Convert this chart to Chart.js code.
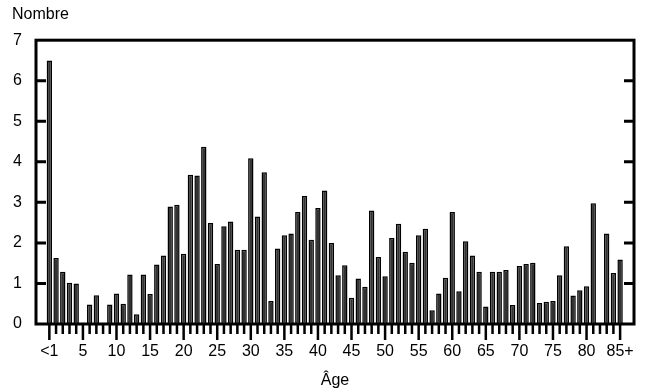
<!DOCTYPE html>
<html>
<head>
<meta charset="utf-8">
<script src="https://cdn.jsdelivr.net/npm/chart.js@4"></script>
<style>
  body { margin: 0; background: #fff; }
  #wrap { width: 646px; height: 392px; }
</style>
</head>
<body>
<div id="wrap"><canvas id="ageChart"></canvas></div>
<script>
const ages = ['<1', '1', '2', '3', '4', '5', '6', '7', '8', '9',
              '10', '11', '12', '13', '14', '15', '16', '17', '18', '19',
              '20', '21', '22', '23', '24', '25', '26', '27', '28', '29',
              '30', '31', '32', '33', '34', '35', '36', '37', '38', '39',
              '40', '41', '42', '43', '44', '45', '46', '47', '48', '49',
              '50', '51', '52', '53', '54', '55', '56', '57', '58', '59',
              '60', '61', '62', '63', '64', '65', '66', '67', '68', '69',
              '70', '71', '72', '73', '74', '75', '76', '77', '78', '79',
              '80', '81', '82', '83', '84', '85+'];

const counts = [6.5, 1.63, 1.29, 1.02, 1.0, 0, 0.48, 0.71, 0, 0.48,
                0.75, 0.5, 1.22, 0.24, 1.22, 0.74, 1.47, 1.69, 2.9, 2.94,
                1.73, 3.68, 3.66, 4.37, 2.49, 1.48, 2.41, 2.53, 1.83, 1.83,
                4.09, 2.65, 3.74, 0.57, 1.86, 2.19, 2.23, 2.76, 3.16, 2.08,
                2.86, 3.29, 2.0, 1.2, 1.45, 0.65, 1.12, 0.92, 2.8, 1.65,
                1.18, 2.12, 2.47, 1.78, 1.51, 2.19, 2.35, 0.34, 0.75, 1.14,
                2.76, 0.81, 2.04, 1.69, 1.29, 0.43, 1.29, 1.29, 1.33, 0.47,
                1.43, 1.48, 1.51, 0.52, 0.55, 0.57, 1.2, 1.92, 0.7, 0.83,
                0.93, 2.98, 0, 2.23, 1.26, 1.59];

const yTicks = [0, 1, 2, 3, 4, 5, 6, 7];

Chart.defaults.font.family = "'Liberation Sans', Arial, sans-serif";
Chart.defaults.color = '#000';

// frame + inward y ticks + short/long x ticks
const framePlugin = {
  id: 'frame',
  afterDraw(chart) {
    const ctx = chart.ctx;
    const a = chart.chartArea;
    const x = chart.scales.x;
    const y = chart.scales.y;
    ctx.save();
    ctx.strokeStyle = '#000';
    ctx.lineWidth = 3;
    ctx.strokeRect(a.left, a.top, a.right - a.left, a.bottom - a.top);

    ctx.beginPath();
    yTicks.slice(1, -1).forEach(v => {
      const py = y.getPixelForValue(v);
      ctx.moveTo(a.left, py);
      ctx.lineTo(a.left + 10, py);
      ctx.moveTo(a.right, py);
      ctx.lineTo(a.right - 10, py);
    });
    ctx.stroke();

    ctx.lineWidth = 2.5;
    ctx.beginPath();
    ages.forEach((label, i) => {
      const px = x.getPixelForValue(i);
      const len = (i % 5 === 0 || i === ages.length - 1) ? 16 : 10;
      ctx.moveTo(px, a.bottom);
      ctx.lineTo(px, a.bottom + len);
    });
    ctx.stroke();
    ctx.restore();
  }
};

const chart = new Chart(document.getElementById('ageChart').getContext('2d'), {
  type: 'bar',
  data: {
    datasets: [{
      data: counts.map((c, i) => ({ x: i, y: c })),
      backgroundColor: '#333',
      borderColor: '#000',
      borderWidth: 1.5,
      borderSkipped: false,
      barPercentage: 0.8,
      categoryPercentage: 1
    }]
  },
  options: {
    responsive: true,
    maintainAspectRatio: false,
    animation: false,
    layout: { padding: { left: 12, right: 12, top: 0, bottom: 0 } },
    plugins: {
      legend: { display: false },
      tooltip: { enabled: false },
      title: {
        display: true,
        text: 'Nombre',
        align: 'start',
        color: '#000',
        font: { size: 16, weight: 'normal' },
        padding: { top: 5, bottom: 16 }
      }
    },
    scales: {
      x: {
        type: 'linear',
        min: -1.47,
        max: 86.55,
        grid: { display: false },
        border: { display: false },
        afterBuildTicks: s => { s.ticks = ages.map((_, i) => ({ value: i })); },
        afterFit: s => { s.height = 68; s.paddingLeft = 0; s.paddingRight = 0; },
        ticks: {
          autoSkip: false,
          maxRotation: 0,
          padding: 10,
          font: { size: 16 },
          callback: v => (v % 5 === 0 || v === ages.length - 1) ? ages[v] : ''
        },
        title: {
          display: true,
          text: 'Âge',
          font: { size: 16 },
          padding: { top: 4, bottom: 2 }
        }
      },
      y: {
        min: 0,
        max: 7,
        grid: { display: false, drawTicks: false },
        border: { display: false },
        afterBuildTicks: s => { s.ticks = yTicks.map(v => ({ value: v })); },
        afterFit: s => { s.width = 24; s.paddingTop = 0; s.paddingBottom = 0; },
        ticks: { padding: 14, font: { size: 16 } }
      }
    }
  },
  plugins: [framePlugin]
});
</script>
</body>
</html>
